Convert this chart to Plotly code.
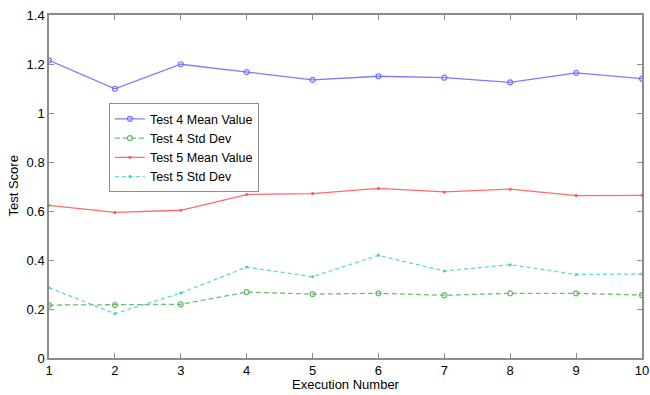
import plotly.graph_objects as go

execution = [1, 2, 3, 4, 5, 6, 7, 8, 9, 10]
test4_mean = [1.215, 1.099, 1.199, 1.167, 1.135, 1.150, 1.144, 1.125, 1.164, 1.140]
test4_std = [0.216, 0.216, 0.219, 0.269, 0.261, 0.264, 0.256, 0.264, 0.264, 0.257]
test5_mean = [0.623, 0.594, 0.603, 0.667, 0.671, 0.692, 0.678, 0.689, 0.663, 0.664]
test5_std = [0.287, 0.181, 0.265, 0.371, 0.332, 0.419, 0.355, 0.381, 0.341, 0.343]

x_ticks = [1, 2, 3, 4, 5, 6, 7, 8, 9, 10]
y_ticks = [0, 0.2, 0.4, 0.6, 0.8, 1, 1.2, 1.4]
y_tick_labels = ["0", "0.2", "0.4", "0.6", "0.8", "1", "1.2", "1.4"]

FONT = "Liberation Sans, Arial, sans-serif"

fig = go.Figure()
fig.add_trace(go.Scatter(x=execution, y=test4_mean, name="Test 4 Mean Value", mode="lines+markers",
                         line=dict(color="#7b7bff", width=1.3),
                         marker=dict(symbol="circle-open", size=5, color="#6f6fff", line=dict(width=1.2))))
fig.add_trace(go.Scatter(x=execution, y=test4_std, name="Test 4 Std Dev", mode="lines+markers",
                         line=dict(color="#6fbf6f", width=1.3, dash="5px,3px"),
                         marker=dict(symbol="circle-open", size=5, color="#5fb85f", line=dict(width=1.2))))
fig.add_trace(go.Scatter(x=execution, y=test5_mean, name="Test 5 Mean Value", mode="lines+markers",
                         line=dict(color="#ff6b6b", width=1.3),
                         marker=dict(symbol="circle", size=3, color="#ff5555")))
fig.add_trace(go.Scatter(x=execution, y=test5_std, name="Test 5 Std Dev", mode="lines+markers",
                         line=dict(color="#5fd8d8", width=1.3, dash="4px,3px"),
                         marker=dict(symbol="circle", size=3, color="#40cccc")))

axis_common = dict(showline=True, linecolor="#8c8c8c", linewidth=1.5, mirror="ticks",
                   ticks="inside", ticklen=5, tickcolor="#8c8c8c", tickwidth=1,
                   showgrid=False, zeroline=False, automargin=False,
                   tickfont=dict(family=FONT, size=13, color="black"))

fig.update_layout(
    width=650, height=395,
    margin=dict(l=49, r=8, t=15, b=37),
    paper_bgcolor="white", plot_bgcolor="white",
    font=dict(family=FONT, color="black"),
    xaxis=dict(range=[1, 10], tickvals=x_ticks, **axis_common),
    yaxis=dict(range=[0, 1.4], tickvals=y_ticks, ticktext=y_tick_labels, **axis_common),
    legend=dict(x=0.101, y=0.743, xanchor="left", yanchor="top",
                bgcolor="white", bordercolor="#8c8c8c", borderwidth=1,
                font=dict(size=12.5, family=FONT),
                tracegroupgap=0, itemwidth=30),
    showlegend=True,
    annotations=[
        dict(text="Execution Number", xref="paper", yref="paper", x=0.5, y=-0.077,
             xanchor="center", yanchor="middle", showarrow=False,
             font=dict(size=13, family=FONT, color="black")),
        dict(text="Test Score", xref="paper", yref="paper", x=-0.0607, y=0.5,
             xanchor="center", yanchor="middle", showarrow=False, textangle=-90,
             font=dict(size=13, family=FONT, color="black")),
    ],
)

fig.write_html("out.html", config={"displayModeBar": False},
               post_script="document.body.style.margin='0';document.body.style.overflow='hidden';")
